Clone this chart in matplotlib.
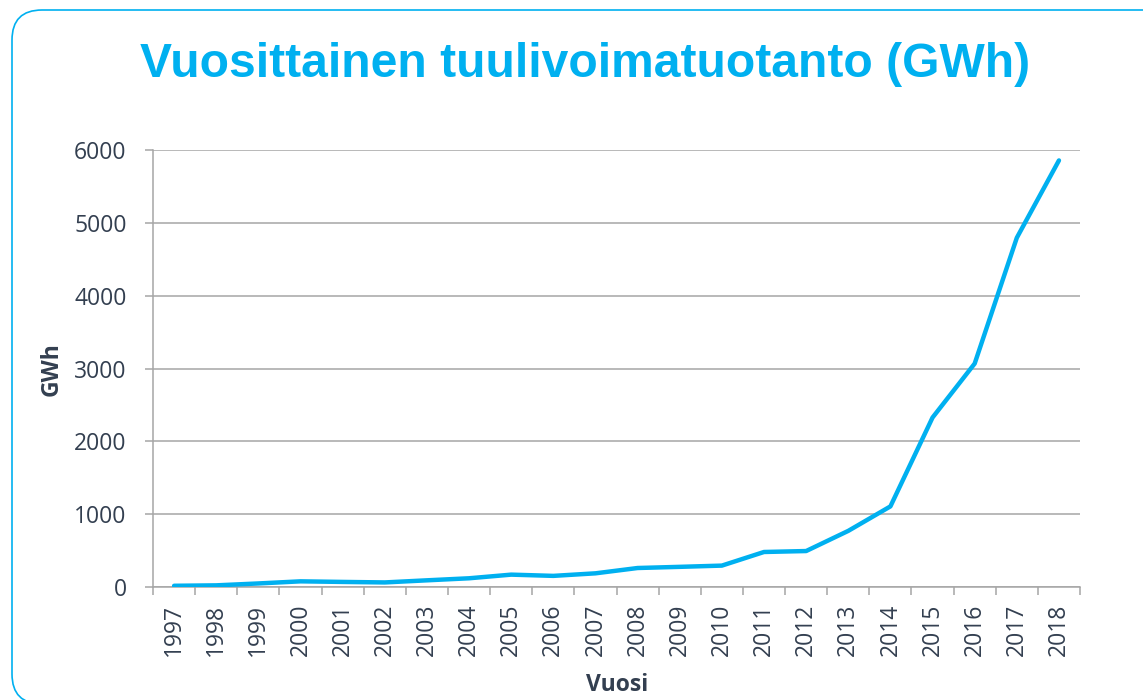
import matplotlib
matplotlib.use('Agg')
import matplotlib.pyplot as plt
from matplotlib.patches import FancyBboxPatch
from matplotlib.transforms import IdentityTransform

# Data
years = ['1997', '1998', '1999', '2000', '2001', '2002', '2003', '2004', '2005', '2006', '2007',
         '2008', '2009', '2010', '2011', '2012', '2013', '2014', '2015', '2016', '2017', '2018']
gwh = [17, 23, 49, 78, 70, 63, 92, 120, 170, 153, 188,
       261, 277, 294, 481, 494, 771, 1107, 2327, 3068, 4795, 5857]
y_ticks = [0, 1000, 2000, 3000, 4000, 5000, 6000]

BLUE = '#00B0F0'
TEXT = '#333F50'
GRID = '#A6A6A6'

fig = plt.figure(figsize=(11.43, 7.0), dpi=100)

# Rounded frame (pixel coords)
frame = FancyBboxPatch((12, -4), 1200, 694, boxstyle='round,pad=0,rounding_size=30',
                       transform=IdentityTransform(), fill=False, edgecolor=BLUE,
                       linewidth=1.2, figure=fig)
fig.patches.append(frame)

fig.text(0.512, 0.908, 'Vuosittainen tuulivoimatuotanto (GWh)', ha='center', va='center',
         fontsize=34.6, fontweight='bold', color=BLUE, family='Liberation Sans')

ax = fig.add_axes([0.1339, 0.1614, 0.8110, 0.6243])
x = list(range(len(years)))
ax.plot(x, gwh, color=BLUE, linewidth=3.2, solid_joinstyle='round', solid_capstyle='round', zorder=3)

ax.set_xlim(-0.5, len(years) - 0.5)
ax.set_ylim(0, 6000)
ax.set_yticks(y_ticks)
ax.set_yticklabels([str(v) for v in y_ticks])
ax.yaxis.grid(True, color=GRID, linewidth=1.1)
ax.set_axisbelow(True)

# category ticks at boundaries, labels at centers
ax.set_xticks([i - 0.5 for i in range(len(years) + 1)])
ax.set_xticklabels([])
ax.set_xticks(x, minor=True)
ax.set_xticklabels(years, minor=True, rotation=90)
ax.tick_params(axis='x', which='major', length=6, width=1.1, color=GRID, direction='out')
ax.tick_params(axis='x', which='minor', length=0, pad=12)
ax.tick_params(axis='y', length=6, width=1.1, color=GRID, pad=13)

for lbl in ax.get_xticklabels(minor=True) + ax.get_yticklabels():
    lbl.set_family('Open Sans')
    lbl.set_fontsize(16.5)
    lbl.set_color(TEXT)

for side in ['top', 'right']:
    ax.spines[side].set_visible(False)
for side in ['left', 'bottom']:
    ax.spines[side].set_color(GRID)
    ax.spines[side].set_linewidth(1.1)

fig.text(0.0455, 0.473, 'GWh', rotation=90, ha='center', va='center', fontsize=16.5,
         fontweight='bold', color=TEXT, family='Open Sans')
fig.text(0.540, 0.022, 'Vuosi', ha='center', va='center', fontsize=16.5,
         fontweight='bold', color=TEXT, family='Open Sans')

fig.savefig('out.png', dpi=100)
